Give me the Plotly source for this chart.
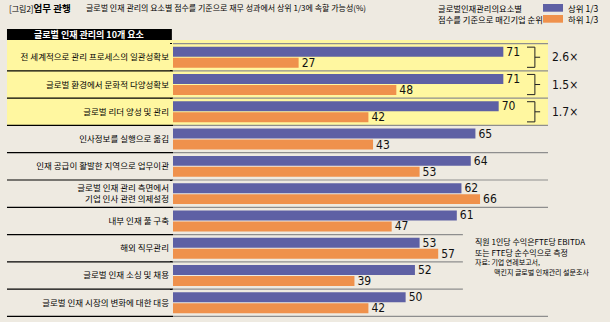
import plotly.graph_objects as go

# Ten elements of global talent management (row labels, top to bottom)
categories = [
    "전 세계적으로 관리 프로세스의 일관성확보",
    "글로벌 환경에서 문화적 다양성확보",
    "글로벌 리더 양성 및 관리",
    "인사정보를 실행으로 옮김",
    "인재 공급이 활발한 지역으로 업무이관",
    "글로벌 인재 관리 측면에서<br>기업 인사 관련 의제설정",
    "내부 인재 풀 구축",
    "해외 직무관리",
    "글로벌 인재 소싱 및 채용",
    "글로벌 인재 시장의 변화에 대한 대응",
]
top_third = [71, 71, 70, 65, 64, 62, 61, 53, 52, 50]
bottom_third = [27, 48, 42, 43, 53, 66, 47, 57, 39, 42]
ratio_labels = ["2.6×", "1.5×", "1.7×"]

series_names = ["상위 1/3", "하위 1/3"]

BG = "#EEEAE1"
PURPLE = "#5E60A4"
ORANGE = "#EF914C"
YELLOW = "#FFF7A0"
GREY = "#8E8E8E"
KR = "Noto Sans CJK KR"
NUM = "Liberation Sans Narrow, DejaVu Sans Condensed, sans-serif"
INK = "#000"

fig = go.Figure()
for name, vals, col in [(series_names[0], top_third, PURPLE),
                        (series_names[1], bottom_third, ORANGE)]:
    fig.add_trace(go.Bar(
        y=categories, x=vals, name=name, orientation="h",
        marker=dict(color=col, line=dict(width=0)),
        text=vals, textposition="outside", constraintext="none",
        textfont=dict(family=NUM, size=12, color="#111"),
        cliponaxis=False, showlegend=False,
    ))

shapes = []
# yellow band behind the three highlighted rows
shapes.append(dict(type="rect", xref="paper", yref="paper", x0=-0.4427, x1=1,
                   y0=0.7, y1=1.011, fillcolor=YELLOW, line=dict(width=0), layer="below"))
# black header box above the labels
shapes.append(dict(type="rect", xref="paper", yref="paper", x0=-0.4427, x1=-0.003,
                   y0=1.011, y1=1.051, fillcolor="#000", line=dict(width=0), layer="above"))

# row separators: black under the labels, grey across the bars
n = len(categories)
for b in [i + 0.5 for i in range(-1, n)]:
    if b > -0.5:
        shapes.append(dict(type="line", xref="paper", yref="y", x0=-0.4427, x1=0,
                           y0=b, y1=b, line=dict(color="#000", width=1.2)))
    right = 0.773 if b in (6.5, 7.5, 8.5) else 1.0
    shapes.append(dict(type="line", xref="paper", yref="y", x0=0, x1=right,
                       y0=b, y1=b, line=dict(color=GREY, width=1.2)))

# brackets pairing the two bars of the highlighted rows
for i in range(len(ratio_labels)):
    lo, hi = i - 0.37, i + 0.37
    lc = dict(color="#222", width=1)
    shapes += [
        dict(type="line", xref="paper", yref="y", x0=0.944, x1=0.965, y0=lo, y1=lo, line=lc),
        dict(type="line", xref="paper", yref="y", x0=0.944, x1=0.965, y0=hi, y1=hi, line=lc),
        dict(type="line", xref="paper", yref="y", x0=0.965, x1=0.965, y0=lo, y1=hi, line=lc),
        dict(type="line", xref="paper", yref="y", x0=0.965, x1=0.979, y0=i, y1=i, line=lc),
    ]

# legend swatches
shapes.append(dict(type="rect", xref="paper", yref="paper", x0=0.9867, x1=1.04,
                   y0=1.1142, y1=1.1423, fillcolor=PURPLE, line=dict(width=0)))
shapes.append(dict(type="rect", xref="paper", yref="paper", x0=0.9867, x1=1.04,
                   y0=1.0741, y1=1.1022, fillcolor=ORANGE, line=dict(width=0)))

ann = []
for i, r in enumerate(ratio_labels):
    ann.append(dict(xref="paper", yref="y", x=1.006, y=i, text=r, showarrow=False,
                    xanchor="left", yanchor="middle",
                    font=dict(family=NUM, size=12, color="#111")))

ann.append(dict(xref="paper", yref="paper", x=-0.2247, y=1.031, text="<b>글로벌 인재 관리의 10개 요소</b>",
                showarrow=False, xanchor="center", yanchor="middle",
                font=dict(family=KR, size=9, color="#fff")))

# title line
ann.append(dict(xref="paper", yref="paper", x=-0.4427, y=1.128,
                text="<span style='font-size:8px'>[그림2]</span><b>업무 관행</b>",
                showarrow=False, xanchor="left", yanchor="middle",
                font=dict(family=KR, size=9.5, color=INK)))
ann.append(dict(xref="paper", yref="paper", x=-0.2373, y=1.128,
                text="글로벌 인재 관리의 요소별 점수를 기준으로 재무 성과에서 상위 1/3에 속할 가능성(%)",
                showarrow=False, xanchor="left", yanchor="middle",
                font=dict(family=KR, size=8, color=INK)))

# legend text
ann.append(dict(xref="paper", yref="paper", x=0.7, y=1.128, text="글로벌인재관리의요소별",
                showarrow=False, xanchor="left", yanchor="middle",
                font=dict(family=KR, size=8.3, color=INK)))
ann.append(dict(xref="paper", yref="paper", x=0.7, y=1.088, text="점수를 기준으로 매긴기업 순위",
                showarrow=False, xanchor="left", yanchor="middle",
                font=dict(family=KR, size=8.3, color=INK)))
for name, yy in zip(series_names, [1.128, 1.088]):
    ann.append(dict(xref="paper", yref="paper", x=1.048, y=yy, text=name,
                    showarrow=False, xanchor="left", yanchor="middle",
                    font=dict(family=KR, size=8.5, color=INK)))

# footnote
notes = [
    ("직원 1인당 수익은FTE당 EBITDA", 0.8, 0.276, 8),
    ("또는 FTE당 순수익으로 측정", 0.8, 0.237, 8),
    ("자료: 기업 연례보고서,", 0.8, 0.199, 7),
    ("맥킨지 글로벌 인재관리 설문조사", 0.851, 0.164, 7),
]
for t, xx, yy, fs in notes:
    ann.append(dict(xref="paper", yref="paper", x=xx, y=yy, text=t,
                    showarrow=False, xanchor="left", yanchor="middle",
                    font=dict(family=KR, size=fs, color=INK)))

fig.update_layout(
    width=610, height=322,
    margin=dict(l=173, r=62, t=43, b=5),
    paper_bgcolor=BG, plot_bgcolor="rgba(0,0,0,0)",
    barmode="group", bargap=0.197, bargroupgap=0.09,
    shapes=shapes, annotations=ann,
    xaxis=dict(range=[0, 80.6], visible=False, fixedrange=True),
    yaxis=dict(type="category", categoryorder="array", categoryarray=categories,
               autorange="reversed", showgrid=False, zeroline=False, showline=False,
               ticks="outside", tickson="boundaries", ticklen=2, tickcolor="#000",
               ticklabelstandoff=3,
               tickfont=dict(family=KR, size=8.5, color=INK)),
)

fig.write_html("out.html")
